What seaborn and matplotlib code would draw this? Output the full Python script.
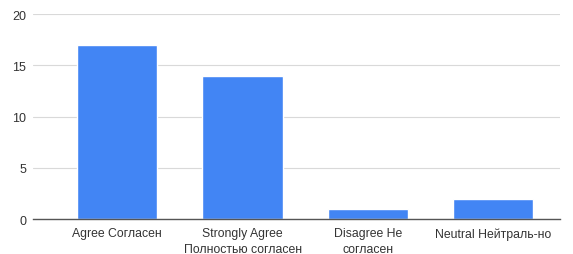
import matplotlib
matplotlib.use('Agg')
import matplotlib.pyplot as plt
import seaborn as sns

categories = ['Agree Согласен', 'Strongly Agree\nПолностью согласен', 'Disagree Не\nсогласен', 'Neutral Нейтраль-но']
values = [17, 14, 1, 2]
y_ticks = [0, 5, 10, 15, 20]

sns.set_style('white')
plt.rcParams['font.family'] = ['Liberation Sans', 'DejaVu Sans']

fig = plt.figure(figsize=(5.73, 2.55), dpi=100)
ax = fig.add_axes([0.058, 0.137, 0.919, 0.804])

sns.barplot(x=categories, y=values, color='#4285f4', saturation=1, width=0.64, ax=ax)

ax.set_ylim(0, 20)
ax.set_yticks(y_ticks)
ax.set_xlim(-0.67, 3.53)
ax.yaxis.grid(True, color='#d9d9d9', lw=0.8)
ax.set_axisbelow(True)
for s in ['top', 'right', 'left']:
    ax.spines[s].set_visible(False)
ax.spines['bottom'].set_color('#555555')
ax.spines['bottom'].set_linewidth(1)
ax.tick_params(axis='x', length=0, labelsize=8.8, colors='#333333', pad=6)
ax.tick_params(axis='y', length=0, labelsize=9, colors='#333333', pad=5)
for lbl in ax.get_xticklabels():
    lbl.set_linespacing(1.35)
ax.set_xlabel('')
ax.set_ylabel('')

fig.savefig('out.png', dpi=100)
